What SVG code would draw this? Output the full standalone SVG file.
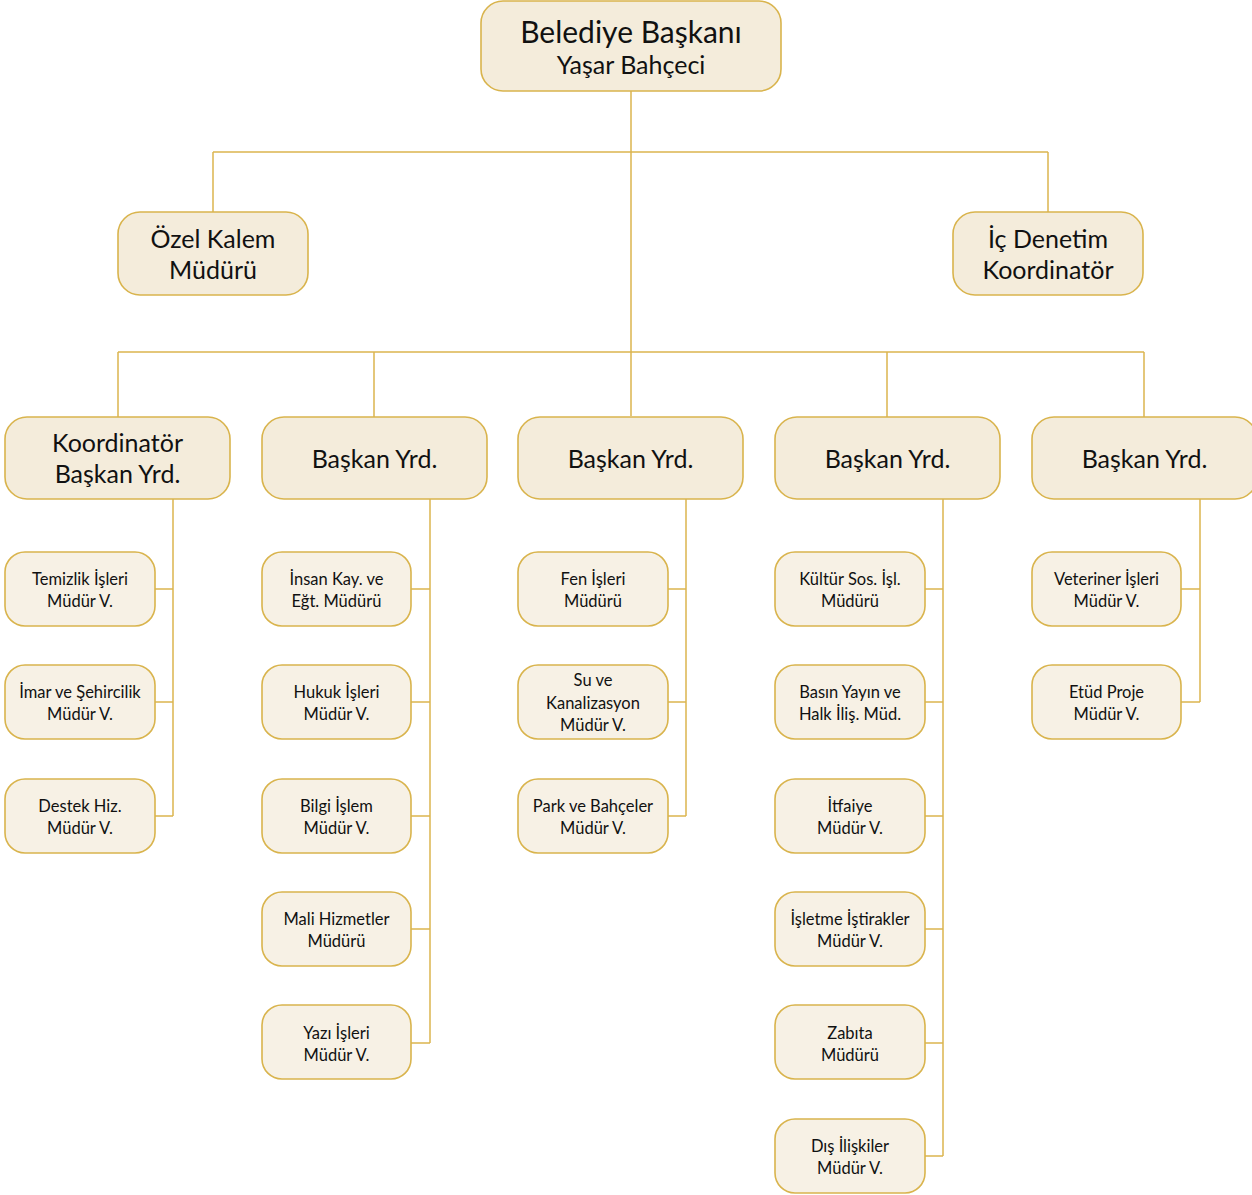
<svg xmlns="http://www.w3.org/2000/svg" width="1252" height="1195" viewBox="0 0 1252 1195">
<style>
.big{fill:#f4ecdb;stroke:#d9b44d;stroke-width:1.6}
.sm{fill:#f7f1e5;stroke:#d9b44d;stroke-width:1.6}
.ln{fill:none;stroke:#dbb54f;stroke-width:1.5}
text{font-family:Lato,"Open Sans","Noto Sans",sans-serif;fill:#111;text-anchor:middle}
.t1{font-size:30px}
.t2{font-size:25px}
.t3{font-size:25px}
.t4{font-size:16.5px}
</style>
<rect width="1252" height="1195" fill="#fff"/>
<g id="connectors">
<path class="ln" d="M631 91V416M213 152H1048M213 152V212M1048 152V212M118 352H1144M118 352V417M374 352V417M887 352V417M1144 352V417"/>
<path class="ln" d="M173 499V816M155 589H173M155 702H173M155 816H173"/>
<path class="ln" d="M430 499V1043M411 589H430M411 702H430M411 816H430M411 929H430M411 1043H430"/>
<path class="ln" d="M686 499V816M668 589H686M668 702H686M668 816H686"/>
<path class="ln" d="M943 499V1156M925 589H943M925 702H943M925 816H943M925 929H943M925 1043H943M925 1156H943"/>
<path class="ln" d="M1200 499V702M1181 589H1200M1181 702H1200"/>
</g>
<g id="n-baskan"><rect class="big" x="481" y="1" width="300" height="90" rx="22"/><text class="t1" x="631" y="43">Belediye Başkanı</text><text class="t2" x="631" y="74">Yaşar Bahçeci</text></g>
<g id="n-ozel"><rect class="big" x="118" y="212" width="190" height="83" rx="22"/><text class="t3" x="213" y="248">Özel Kalem</text><text class="t3" x="213" y="279">Müdürü</text></g>
<g id="n-icdenetim"><rect class="big" x="953" y="212" width="190" height="83" rx="22"/><text class="t3" x="1048" y="248">İç Denetim</text><text class="t3" x="1048" y="279">Koordinatör</text></g>
<g id="n-koord"><rect class="big" x="5" y="417" width="225" height="82" rx="22"/><text class="t3" x="117.5" y="452">Koordinatör</text><text class="t3" x="117.5" y="483">Başkan Yrd.</text></g>
<g id="n-by1"><rect class="big" x="262" y="417" width="225" height="82" rx="22"/><text class="t3" x="374.5" y="468">Başkan Yrd.</text></g>
<g id="n-by2"><rect class="big" x="518" y="417" width="225" height="82" rx="22"/><text class="t3" x="630.5" y="468">Başkan Yrd.</text></g>
<g id="n-by3"><rect class="big" x="775" y="417" width="225" height="82" rx="22"/><text class="t3" x="887.5" y="468">Başkan Yrd.</text></g>
<g id="n-by4"><rect class="big" x="1032" y="417" width="225" height="82" rx="22"/><text class="t3" x="1144.5" y="468">Başkan Yrd.</text></g>

<g id="n-temizlik"><rect class="sm" x="5" y="552" width="150" height="74" rx="20"/><text class="t4" x="80" y="585">Temizlik İşleri</text><text class="t4" x="80" y="607">Müdür V.</text></g>
<g id="n-imar"><rect class="sm" x="5" y="665" width="150" height="74" rx="20"/><text class="t4" x="80" y="698">İmar ve Şehircilik</text><text class="t4" x="80" y="720">Müdür V.</text></g>
<g id="n-destek"><rect class="sm" x="5" y="779" width="150" height="74" rx="20"/><text class="t4" x="80" y="812">Destek Hiz.</text><text class="t4" x="80" y="834">Müdür V.</text></g>

<g id="n-insan"><rect class="sm" x="262" y="552" width="149" height="74" rx="20"/><text class="t4" x="336.5" y="585">İnsan Kay. ve</text><text class="t4" x="336.5" y="607">Eğt. Müdürü</text></g>
<g id="n-hukuk"><rect class="sm" x="262" y="665" width="149" height="74" rx="20"/><text class="t4" x="336.5" y="698">Hukuk İşleri</text><text class="t4" x="336.5" y="720">Müdür V.</text></g>
<g id="n-bilgi"><rect class="sm" x="262" y="779" width="149" height="74" rx="20"/><text class="t4" x="336.5" y="812">Bilgi İşlem</text><text class="t4" x="336.5" y="834">Müdür V.</text></g>
<g id="n-mali"><rect class="sm" x="262" y="892" width="149" height="74" rx="20"/><text class="t4" x="336.5" y="925">Mali Hizmetler</text><text class="t4" x="336.5" y="947">Müdürü</text></g>
<g id="n-yazi"><rect class="sm" x="262" y="1005" width="149" height="74" rx="20"/><text class="t4" x="336.5" y="1039">Yazı İşleri</text><text class="t4" x="336.5" y="1061">Müdür V.</text></g>

<g id="n-fen"><rect class="sm" x="518" y="552" width="150" height="74" rx="20"/><text class="t4" x="593" y="585">Fen İşleri</text><text class="t4" x="593" y="607">Müdürü</text></g>
<g id="n-su"><rect class="sm" x="518" y="665" width="150" height="74" rx="20"/><text class="t4" x="593" y="686">Su ve</text><text class="t4" x="593" y="709">Kanalizasyon</text><text class="t4" x="593" y="731">Müdür V.</text></g>
<g id="n-park"><rect class="sm" x="518" y="779" width="150" height="74" rx="20"/><text class="t4" x="593" y="812">Park ve Bahçeler</text><text class="t4" x="593" y="834">Müdür V.</text></g>

<g id="n-kultur"><rect class="sm" x="775" y="552" width="150" height="74" rx="20"/><text class="t4" x="850" y="585">Kültür Sos. İşl.</text><text class="t4" x="850" y="607">Müdürü</text></g>
<g id="n-basin"><rect class="sm" x="775" y="665" width="150" height="74" rx="20"/><text class="t4" x="850" y="698">Basın Yayın ve</text><text class="t4" x="850" y="720">Halk İliş. Müd.</text></g>
<g id="n-itfaiye"><rect class="sm" x="775" y="779" width="150" height="74" rx="20"/><text class="t4" x="850" y="812">İtfaiye</text><text class="t4" x="850" y="834">Müdür V.</text></g>
<g id="n-isletme"><rect class="sm" x="775" y="892" width="150" height="74" rx="20"/><text class="t4" x="850" y="925">İşletme İştirakler</text><text class="t4" x="850" y="947">Müdür V.</text></g>
<g id="n-zabita"><rect class="sm" x="775" y="1005" width="150" height="74" rx="20"/><text class="t4" x="850" y="1039">Zabıta</text><text class="t4" x="850" y="1061">Müdürü</text></g>
<g id="n-dis"><rect class="sm" x="775" y="1119" width="150" height="74" rx="20"/><text class="t4" x="850" y="1152">Dış İlişkiler</text><text class="t4" x="850" y="1174">Müdür V.</text></g>

<g id="n-veteriner"><rect class="sm" x="1032" y="552" width="149" height="74" rx="20"/><text class="t4" x="1106.5" y="585">Veteriner İşleri</text><text class="t4" x="1106.5" y="607">Müdür V.</text></g>
<g id="n-etud"><rect class="sm" x="1032" y="665" width="149" height="74" rx="20"/><text class="t4" x="1106.5" y="698">Etüd Proje</text><text class="t4" x="1106.5" y="720">Müdür V.</text></g>
</svg>
